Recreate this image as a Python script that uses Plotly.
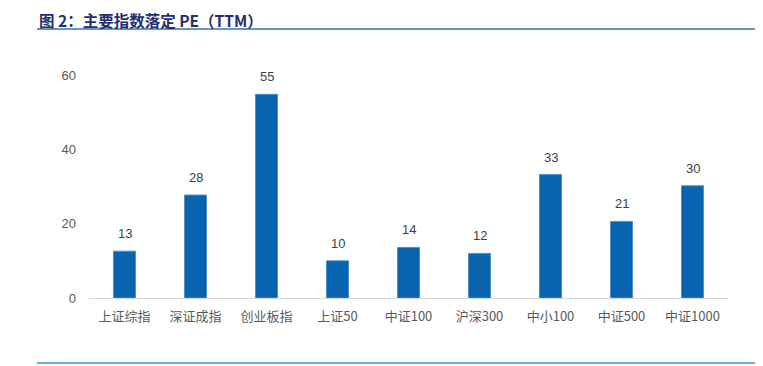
import plotly.graph_objects as go

categories = ["上证综指", "深证成指", "创业板指", "上证50", "中证100", "沪深300", "中小100", "中证500", "中证1000"]
pe_values = [12.6, 27.7, 54.8, 10.0, 13.6, 12.0, 33.2, 20.6, 30.2]
y_ticks = [0, 20, 40, 60]

font_family = "Noto Sans CJK SC, Noto Sans, sans-serif"
num_font = "Liberation Sans, Arial, sans-serif"

W, H = 755, 358
L, R, T, B = 81, 35, 67, 68
PW, PH = W - L - R, H - T - B

def px(x):
    return (x - 8 - L) / PW

def py(y):
    return (H - B - (y - 8)) / PH

fig = go.Figure(go.Bar(
    x=categories, y=pe_values,
    marker=dict(color="#0864AE", line=dict(width=1, color="#4F8FC8")),
))

for c, v in zip(categories, pe_values):
    fig.add_annotation(x=c, y=v, text=f"{v:.0f}", showarrow=False, yanchor="bottom",
                       yshift=8, font=dict(size=13, color="#404040", family=num_font))

fig.update_layout(
    width=W, height=H,
    margin=dict(l=L, r=R, t=T, b=B),
    paper_bgcolor="white", plot_bgcolor="white",
    bargap=0.69, showlegend=False,
    font=dict(family=font_family, color="#595959", size=13),
    xaxis=dict(showgrid=False, showline=True, linecolor="#D9D9D9", linewidth=1,
               ticks="", tickfont=dict(size=13, color="#595959"), ticklabelstandoff=6),
    yaxis=dict(range=[0, 60], tickvals=y_ticks, showgrid=False, zeroline=False,
               showline=False, ticks="", ticklabelstandoff=12,
               tickfont=dict(size=13, color="#595959", family=num_font)),
    shapes=[
        dict(type="line", xref="paper", yref="paper", x0=px(37), x1=px(763), y0=py(29), y1=py(29),
             line=dict(color="#2E75B6", width=1.5)),
        dict(type="line", xref="paper", yref="paper", x0=px(37), x1=px(755), y0=py(363), y1=py(363),
             line=dict(color="#6FAEDC", width=2)),
    ],
)
fig.add_annotation(text="<b>图 2：主要指数落定 PE（TTM）</b>", xref="paper", yref="paper",
                   x=px(38), y=py(8), xanchor="left", yanchor="top", showarrow=False,
                   borderpad=0,
                   font=dict(size=15.5, color="#1F2F6E", family=font_family))

fig.write_html("out.html")
